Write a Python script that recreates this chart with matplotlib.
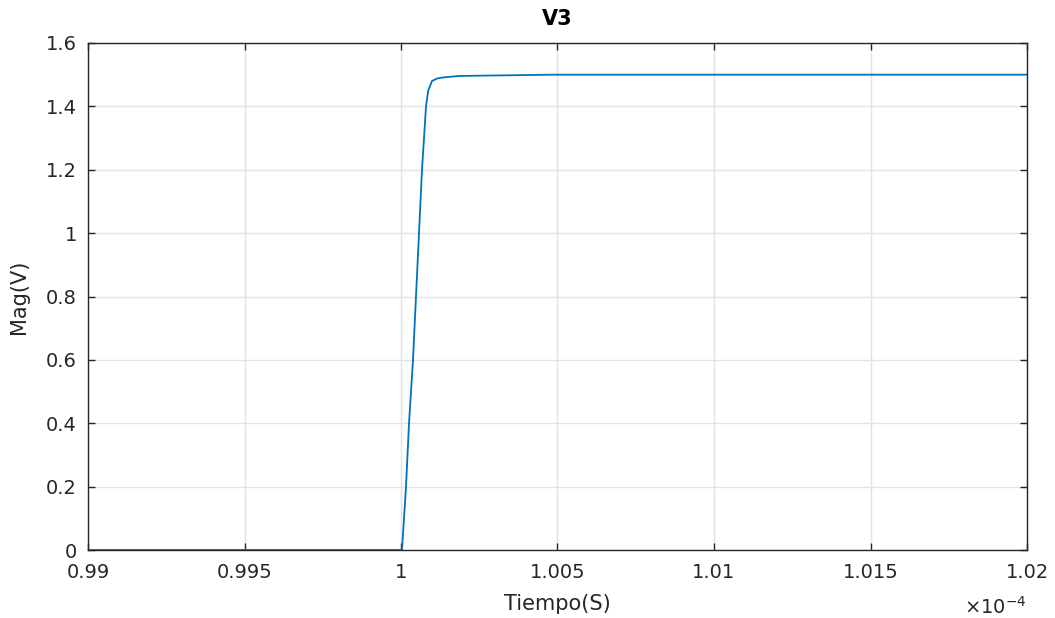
import matplotlib
matplotlib.use('Agg')
import matplotlib.pyplot as plt
import numpy as np
from matplotlib.ticker import FuncFormatter

# time in units of 1e-4 s, voltage in V
t_scaled = [0.99, 1.0, 1.000032, 1.00016, 1.000256, 1.000383, 1.000479,
            1.000575, 1.000671, 1.000799, 1.00087, 1.00099, 1.00115,
            1.0014, 1.00188, 1.0048, 1.02]
v3 = [0.0, 0.0, 0.0, 0.2, 0.4, 0.6, 0.8,
      1.0, 1.2, 1.4, 1.45, 1.48, 1.488,
      1.492, 1.496, 1.5, 1.5]

t = np.array(t_scaled) * 1e-4
xticks = np.array([0.99, 0.995, 1.0, 1.005, 1.01, 1.015, 1.02]) * 1e-4
yticks = [0, 0.2, 0.4, 0.6, 0.8, 1.0, 1.2, 1.4, 1.6]

dark = '#262626'
fig = plt.figure(figsize=(10.55, 6.18), dpi=100)
ax = fig.add_axes([88/1055, 1-550/618, (1027-88)/1055, (550-43)/618])

ax.plot(t, v3, color='#0072BD', lw=1.3)

ax.set_xlim(xticks[0], xticks[-1])
ax.set_ylim(0, 1.6)
ax.set_xticks(xticks)
ax.set_yticks(yticks)
ax.xaxis.set_major_formatter(FuncFormatter(lambda v, _: f'{v*1e4:g}'))
ax.yaxis.set_major_formatter(FuncFormatter(lambda v, _: f'{v:g}'))
ax.tick_params(direction='in', top=True, right=True, length=5,
               labelsize=14, colors=dark, width=1)
ax.tick_params(axis='x', pad=9)
ax.tick_params(axis='y', pad=8)
ax.grid(True, color='#e3e3e3', lw=1)
ax.set_axisbelow(True)
for s in ax.spines.values():
    s.set_color(dark)
    s.set_linewidth(1)

ax.set_title('V3', fontsize=15, fontweight='bold', pad=13)
ax.set_xlabel('Tiempo(S)', fontsize=15, color=dark, labelpad=9)
ax.set_ylabel('Mag(V)', fontsize=15, color=dark, labelpad=12)
fig.text(995/1055, 1-607/618, r'$\times10^{-4}$', fontsize=14, color=dark,
         ha='center', va='center')

fig.savefig('out.png', dpi=100)
